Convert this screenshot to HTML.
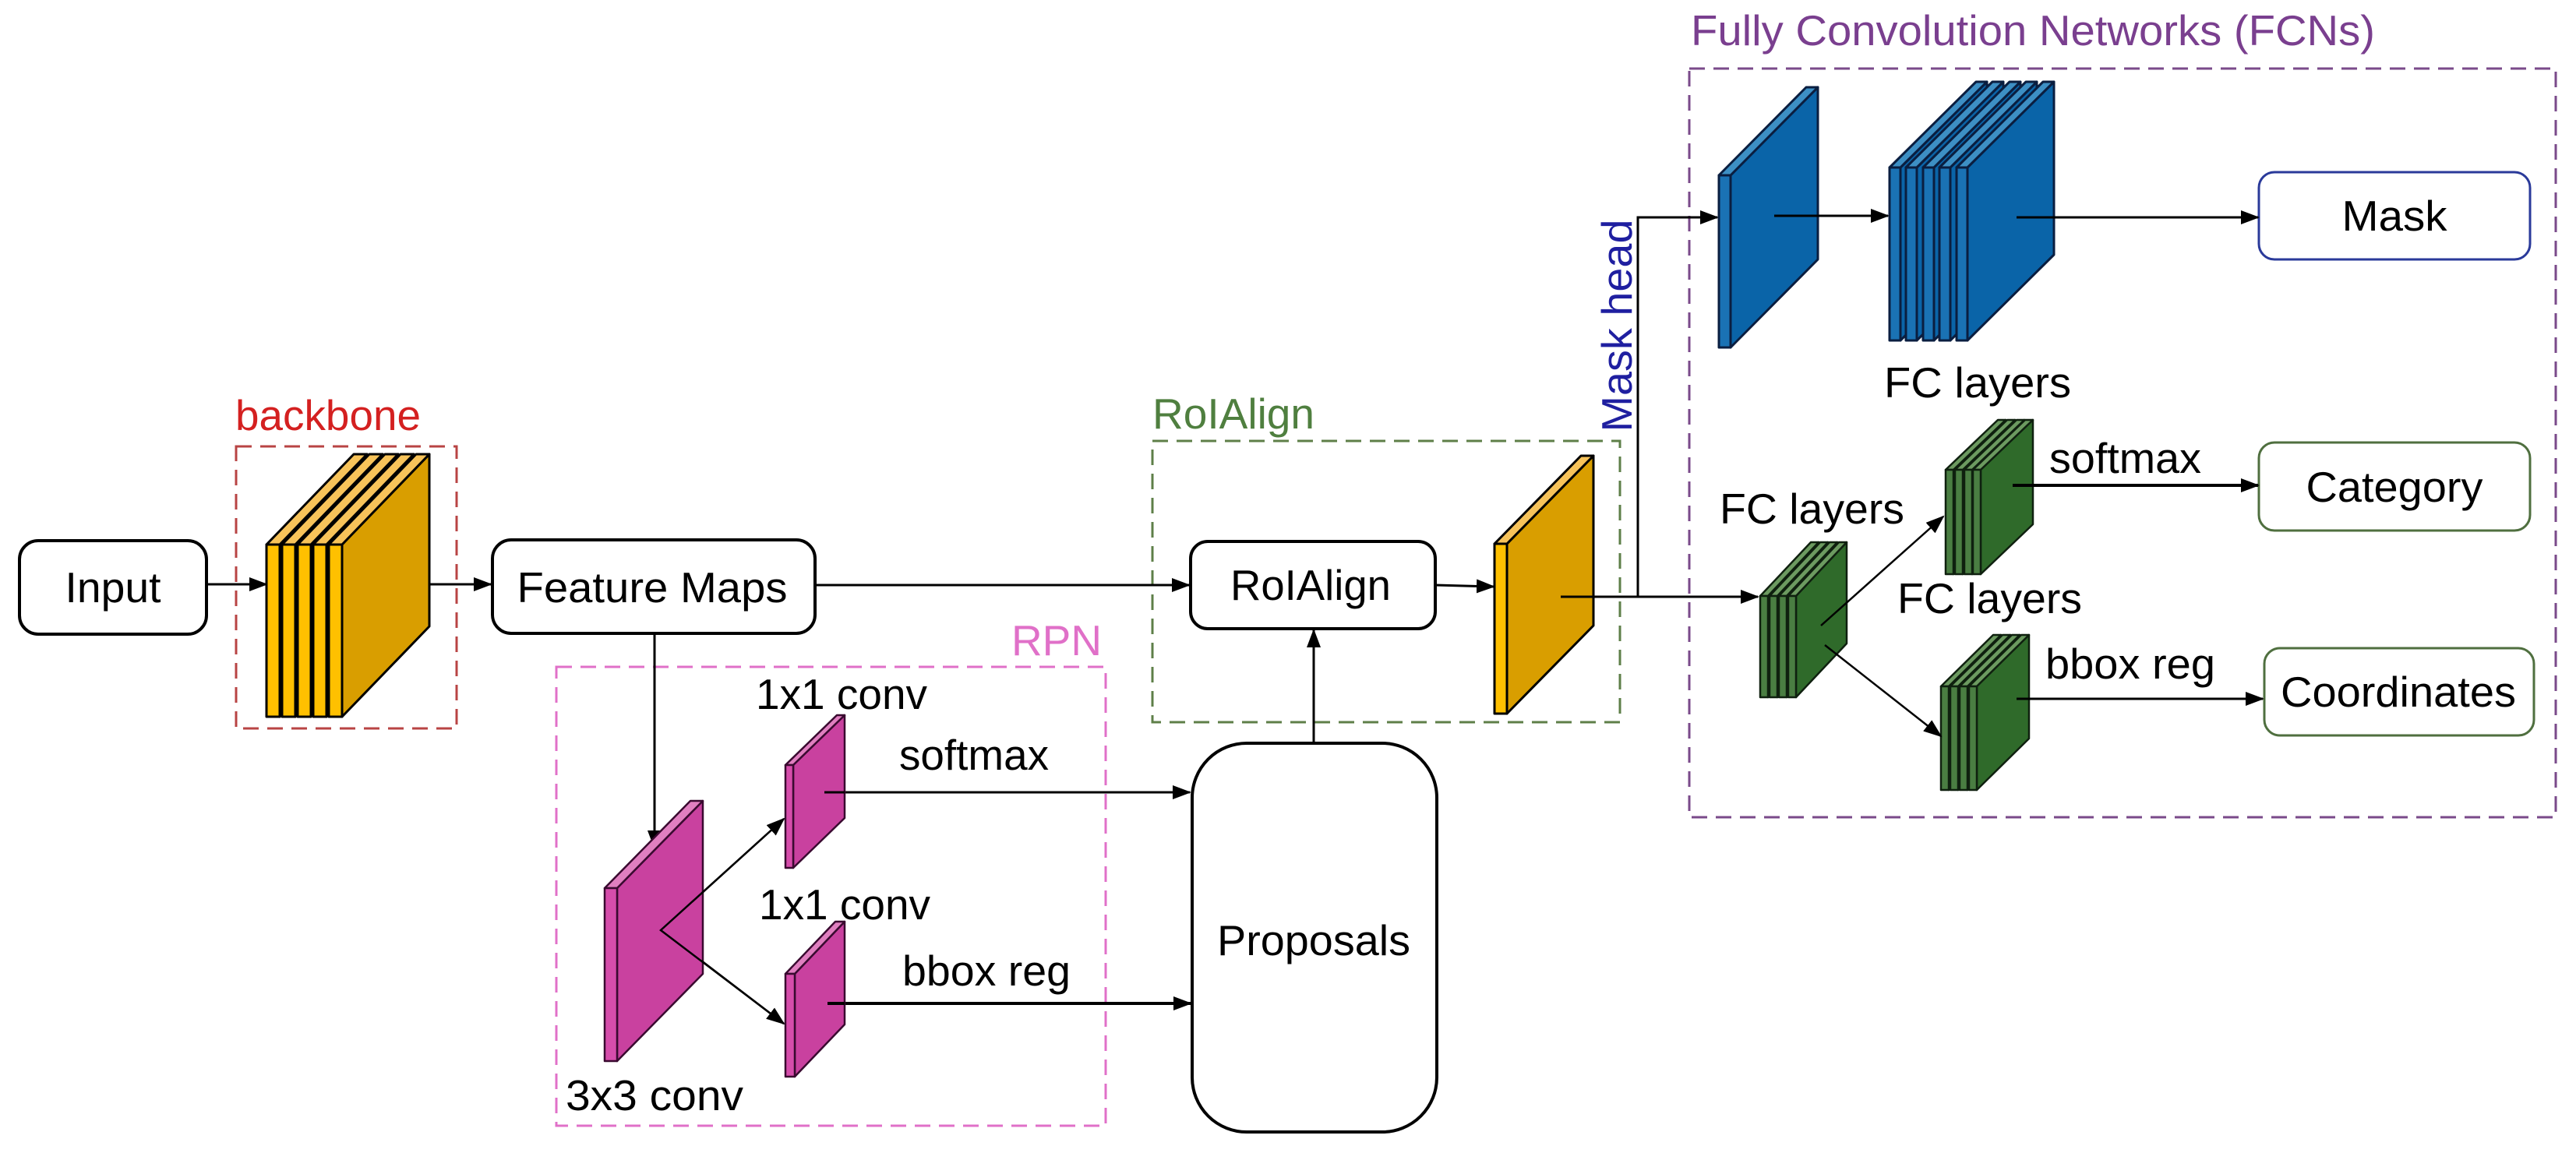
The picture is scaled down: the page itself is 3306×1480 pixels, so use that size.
<!DOCTYPE html>
<html><head><meta charset="utf-8"><style>html,body{margin:0;padding:0;background:#fff}svg{display:block}</style></head>
<body>
<svg xmlns="http://www.w3.org/2000/svg" width="3306" height="1480" viewBox="0 0 3306 1480" font-family="'Liberation Sans', Arial, sans-serif">
<defs>
<marker id="ar" markerUnits="userSpaceOnUse" markerWidth="24" markerHeight="18" refX="22" refY="9" orient="auto">
<path d="M0,0 L24,9 L0,18 z" fill="#000"/></marker>
<g id="po" stroke="#000" stroke-width="3" stroke-linejoin="round"><polygon points="17,0 129,-116 129,105 17,221" fill="#D99E00"/><polygon points="0,0 17,0 129,-116 112,-116" fill="#F7C35A"/><rect x="0" y="0" width="17" height="221" fill="#FFC000"/></g>
<g id="pr" stroke="#000" stroke-width="3" stroke-linejoin="round"><polygon points="16,0 127,-113 127,105 16,218" fill="#D99E00"/><polygon points="0,0 16,0 127,-113 111,-113" fill="#F7C35A"/><rect x="0" y="0" width="16" height="218" fill="#FFC000"/></g>
<g id="m3" stroke="#3a0a30" stroke-width="2.5" stroke-linejoin="round"><polygon points="16,0 126,-112 126,110 16,222" fill="#C9419F"/><polygon points="0,0 16,0 126,-112 110,-112" fill="#E07FC0"/><rect x="0" y="0" width="16" height="222" fill="#D64DAB"/></g>
<g id="m1" stroke="#3a0a30" stroke-width="2.5" stroke-linejoin="round"><polygon points="10,0 76,-64 76,68 10,132" fill="#C9419F"/><polygon points="0,0 10,0 76,-64 66,-64" fill="#E07FC0"/><rect x="0" y="0" width="10" height="132" fill="#D64DAB"/></g>
<g id="m2" stroke="#3a0a30" stroke-width="2.5" stroke-linejoin="round"><polygon points="12,0 76,-67 76,65 12,132" fill="#C9419F"/><polygon points="0,0 12,0 76,-67 64,-67" fill="#E07FC0"/><rect x="0" y="0" width="12" height="132" fill="#D64DAB"/></g>
<g id="b1" stroke="#0A1E40" stroke-width="3" stroke-linejoin="round"><polygon points="15,0 127,-113 127,108 15,221" fill="#0A64A8"/><polygon points="0,0 15,0 127,-113 112,-113" fill="#3D8FC4"/><rect x="0" y="0" width="15" height="221" fill="#1A72B4"/></g>
<g id="b2" stroke="#0A1E40" stroke-width="3" stroke-linejoin="round"><polygon points="14,0 125,-110 125,112 14,222" fill="#0A64A8"/><polygon points="0,0 14,0 125,-110 111,-110" fill="#3D8FC4"/><rect x="0" y="0" width="14" height="222" fill="#1A72B4"/></g>
<g id="g1" stroke="#0f200f" stroke-width="2.5" stroke-linejoin="round"><polygon points="10,0 75,-69 75,61 10,130" fill="#2F6A2A"/><polygon points="0,0 10,0 75,-69 65,-69" fill="#6C9A60"/><rect x="0" y="0" width="10" height="130" fill="#4A7E42"/></g>
<g id="g2" stroke="#0f200f" stroke-width="2.5" stroke-linejoin="round"><polygon points="10,0 77,-64 77,70 10,134" fill="#2F6A2A"/><polygon points="0,0 10,0 77,-64 67,-64" fill="#6C9A60"/><rect x="0" y="0" width="10" height="134" fill="#4A7E42"/></g>
<g id="g3" stroke="#0f200f" stroke-width="2.5" stroke-linejoin="round"><polygon points="10,0 77,-66 77,67 10,133" fill="#2F6A2A"/><polygon points="0,0 10,0 77,-66 67,-66" fill="#6C9A60"/><rect x="0" y="0" width="10" height="133" fill="#4A7E42"/></g>
</defs>

<rect x="303" y="573" width="283" height="362" fill="none" stroke="#B84444" stroke-width="3" stroke-dasharray="20,11"/>
<rect x="714" y="856" width="705" height="589" fill="none" stroke="#E070C8" stroke-width="3" stroke-dasharray="20,11"/>
<rect x="1479" y="566" width="600" height="361" fill="none" stroke="#5E7F48" stroke-width="3" stroke-dasharray="20,11"/>
<rect x="2168" y="88" width="1112" height="961" fill="none" stroke="#7A4A8A" stroke-width="3" stroke-dasharray="20,11"/>

<g font-size="55" lengthAdjust="spacingAndGlyphs">
<text x="302" y="552" fill="#D42020" textLength="238" lengthAdjust="spacingAndGlyphs">backbone</text>
<text x="1298" y="841" fill="#E070C8" textLength="116" lengthAdjust="spacingAndGlyphs">RPN</text>
<text x="1479" y="550" fill="#4F7F3F" textLength="208" lengthAdjust="spacingAndGlyphs">RoIAlign</text>
<text x="2170" y="58" fill="#7A3F8F" textLength="878" lengthAdjust="spacingAndGlyphs">Fully Convolution Networks (FCNs)</text>
<text transform="translate(2094,418) rotate(-90)" text-anchor="middle" fill="#1F1FA0" textLength="273" lengthAdjust="spacingAndGlyphs">Mask head</text>
</g>

<g fill="#fff" stroke="#000" stroke-width="4">
<rect x="25" y="694" width="240" height="120" rx="24"/>
<rect x="632" y="693" width="414" height="120" rx="24"/>
<rect x="1528" y="695" width="314" height="112" rx="22"/>
<rect x="1530" y="954" width="314" height="499" rx="70"/>
</g>
<rect x="2899" y="221" width="348" height="112" rx="20" fill="#fff" stroke="#2A3A9A" stroke-width="3"/>
<rect x="2899" y="568" width="348" height="113" rx="20" fill="#fff" stroke="#4F6F3F" stroke-width="3"/>
<rect x="2906" y="832" width="346" height="112" rx="20" fill="#fff" stroke="#4F6F3F" stroke-width="3"/>

<g font-size="55" text-anchor="middle" fill="#000">
<text x="145" y="773" textLength="123" lengthAdjust="spacingAndGlyphs">Input</text>
<text x="837" y="773" textLength="347" lengthAdjust="spacingAndGlyphs">Feature Maps</text>
<text x="1682" y="770" textLength="206" lengthAdjust="spacingAndGlyphs">RoIAlign</text>
<text x="1686" y="1226" textLength="248" lengthAdjust="spacingAndGlyphs">Proposals</text>
<text x="3073" y="296" textLength="135" lengthAdjust="spacingAndGlyphs">Mask</text>
<text x="3073" y="644" textLength="227" lengthAdjust="spacingAndGlyphs">Category</text>
<text x="3078" y="907" textLength="302" lengthAdjust="spacingAndGlyphs">Coordinates</text>
</g>

<g stroke="#000" stroke-width="3" fill="none">
<line x1="265" y1="750" x2="342" y2="750" marker-end="url(#ar)"/>
<line x1="551" y1="750" x2="630" y2="750" marker-end="url(#ar)"/>
<line x1="1046" y1="751" x2="1526" y2="751" marker-end="url(#ar)"/>
<line x1="1842" y1="751" x2="1917" y2="753" marker-end="url(#ar)"/>
<line x1="1686" y1="954" x2="1686" y2="809" marker-end="url(#ar)"/>
<line x1="840" y1="813" x2="840" y2="1088" marker-end="url(#ar)"/>
<line x1="1058" y1="1017" x2="1527" y2="1017" marker-end="url(#ar)"/>
<line x1="1062" y1="1288" x2="1528" y2="1288" stroke-width="4" marker-end="url(#ar)"/>
<line x1="1999" y1="766" x2="2256" y2="766" marker-end="url(#ar)"/>
<polyline points="2102,766 2102,279 2204,279" marker-end="url(#ar)"/>
<line x1="2583" y1="623" x2="2898" y2="623" stroke-width="4" marker-end="url(#ar)"/>
<line x1="2588" y1="897" x2="2904" y2="897" marker-end="url(#ar)"/>
<line x1="2588" y1="279" x2="2898" y2="279" marker-end="url(#ar)"/>
</g>

<use href="#po" x="342" y="699"/><use href="#po" x="362" y="699"/><use href="#po" x="382" y="699"/><use href="#po" x="402" y="699"/><use href="#po" x="422" y="699"/>
<use href="#pr" x="1918" y="698"/>
<use href="#m3" x="776" y="1140"/>
<use href="#m1" x="1008" y="982"/>
<use href="#m2" x="1008" y="1250"/>
<use href="#b1" x="2206" y="225"/>
<use href="#b2" x="2425" y="215"/><use href="#b2" x="2446" y="215"/><use href="#b2" x="2468" y="215"/><use href="#b2" x="2489" y="215"/><use href="#b2" x="2511" y="215"/>
<use href="#g1" x="2259" y="765"/><use href="#g1" x="2271" y="765"/><use href="#g1" x="2283" y="765"/><use href="#g1" x="2295" y="765"/>
<use href="#g2" x="2497" y="603"/><use href="#g2" x="2509" y="603"/><use href="#g2" x="2521" y="603"/><use href="#g2" x="2532" y="603"/>
<use href="#g3" x="2491" y="881"/><use href="#g3" x="2503" y="881"/><use href="#g3" x="2515" y="881"/><use href="#g3" x="2527" y="881"/>

<g stroke="#000" stroke-width="3" fill="none">
<line x1="2003" y1="766" x2="2080" y2="766"/>
<line x1="2277" y1="277" x2="2423" y2="277" marker-end="url(#ar)"/>
<line x1="2588" y1="279" x2="2640" y2="279"/>
<polyline points="1006,1051 848,1194 1006,1314" stroke-width="2.5"/>
<line x1="900" y1="1147" x2="1006" y2="1051" stroke-width="2.5" marker-end="url(#ar)"/>
<line x1="900" y1="1233" x2="1006" y2="1314" stroke-width="2.5" marker-end="url(#ar)"/>
<line x1="2337" y1="803" x2="2494" y2="663" stroke-width="2.5" marker-end="url(#ar)"/>
<line x1="2342" y1="828" x2="2491" y2="945" stroke-width="2.5" marker-end="url(#ar)"/>
<line x1="1058" y1="1017" x2="1084" y2="1017"/>
<line x1="1062" y1="1288" x2="1084" y2="1288" stroke-width="4"/>
<line x1="2583" y1="623" x2="2612" y2="623" stroke-width="4"/>
<line x1="2588" y1="897" x2="2608" y2="897"/>
</g>

<g font-size="55" fill="#000">
<text x="970" y="910" textLength="220" lengthAdjust="spacingAndGlyphs">1x1 conv</text>
<text x="1154" y="988" textLength="192" lengthAdjust="spacingAndGlyphs">softmax</text>
<text x="974" y="1180" textLength="220" lengthAdjust="spacingAndGlyphs">1x1 conv</text>
<text x="1158" y="1265" textLength="216" lengthAdjust="spacingAndGlyphs">bbox reg</text>
<text x="726" y="1425" textLength="228" lengthAdjust="spacingAndGlyphs">3x3 conv</text>
<text x="2418" y="510" textLength="240" lengthAdjust="spacingAndGlyphs">FC layers</text>
<text x="2207" y="672" textLength="237" lengthAdjust="spacingAndGlyphs">FC layers</text>
<text x="2630" y="607" textLength="195" lengthAdjust="spacingAndGlyphs">softmax</text>
<text x="2435" y="787" textLength="237" lengthAdjust="spacingAndGlyphs">FC layers</text>
<text x="2625" y="871" textLength="218" lengthAdjust="spacingAndGlyphs">bbox reg</text>
</g>
</svg>
</body></html>
